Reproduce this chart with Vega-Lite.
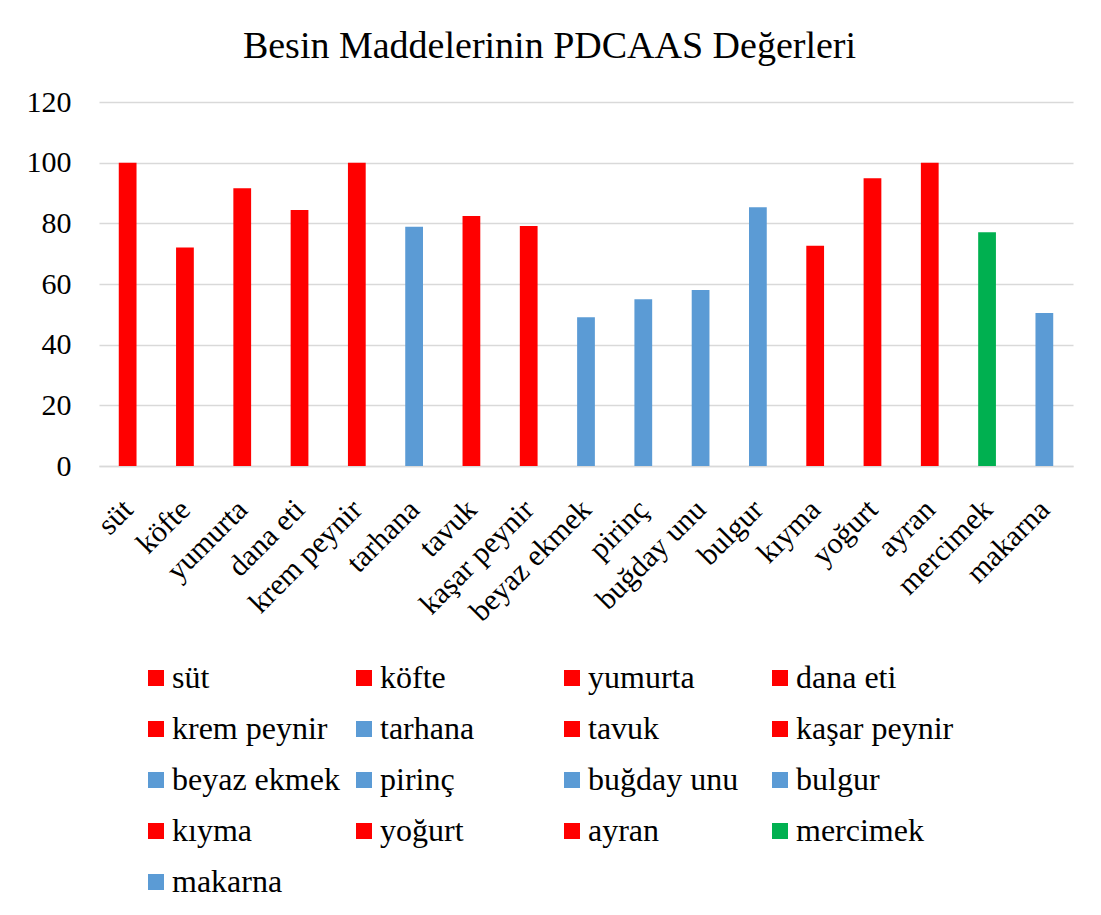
{
  "$schema": "https://vega.github.io/schema/vega-lite/v6.json",
  "width": 974,
  "height": 364,
  "padding": {"left": 26, "top": 28, "right": 20, "bottom": 10},
  "background": "white",
  "title": {
    "text": "Besin Maddelerinin PDCAAS Değerleri",
    "font": "Liberation Serif",
    "fontSize": 38,
    "fontWeight": "normal",
    "color": "#000000",
    "anchor": "middle",
    "frame": "bounds",
    "baseline": "alphabetic",
    "offset": -9
  },
  "data": {
    "values": [
      {"besin": "süt", "pdcaas": 100},
      {"besin": "köfte", "pdcaas": 72},
      {"besin": "yumurta", "pdcaas": 91.6},
      {"besin": "dana eti", "pdcaas": 84.4},
      {"besin": "krem peynir", "pdcaas": 100},
      {"besin": "tarhana", "pdcaas": 78.9},
      {"besin": "tavuk", "pdcaas": 82.4},
      {"besin": "kaşar peynir", "pdcaas": 79.1},
      {"besin": "beyaz ekmek", "pdcaas": 49},
      {"besin": "pirinç", "pdcaas": 55},
      {"besin": "buğday unu", "pdcaas": 58},
      {"besin": "bulgur", "pdcaas": 85.3},
      {"besin": "kıyma", "pdcaas": 72.6},
      {"besin": "yoğurt", "pdcaas": 94.9},
      {"besin": "ayran", "pdcaas": 100},
      {"besin": "mercimek", "pdcaas": 77.1},
      {"besin": "makarna", "pdcaas": 50.4}
    ]
  },
  "mark": {"type": "bar"},
  "encoding": {
    "x": {
      "field": "besin",
      "type": "nominal",
      "sort": null,
      "scale": {"paddingInner": 0.69, "paddingOuter": 0.345},
      "axis": {
        "title": null,
        "labelAngle": -45,
        "labelFont": "Liberation Serif",
        "labelFontSize": 30,
        "labelColor": "#000000",
        "labelPadding": 28,
        "labelOffset": -10,
        "ticks": false,
        "domainColor": "#d9d9d9",
        "domainWidth": 1.5,
        "grid": false
      }
    },
    "y": {
      "field": "pdcaas",
      "type": "quantitative",
      "scale": {"domain": [0, 120]},
      "axis": {
        "title": null,
        "values": [0, 20, 40, 60, 80, 100, 120],
        "labelFont": "Liberation Serif",
        "labelFontSize": 30,
        "labelColor": "#000000",
        "labelPadding": 28,
        "ticks": false,
        "domain": false,
        "gridColor": "#d9d9d9",
        "gridWidth": 1.5
      }
    },
    "color": {
      "field": "besin",
      "type": "nominal",
      "scale": {
        "domain": ["süt", "köfte", "yumurta", "dana eti", "krem peynir", "tarhana", "tavuk", "kaşar peynir", "beyaz ekmek", "pirinç", "buğday unu", "bulgur", "kıyma", "yoğurt", "ayran", "mercimek", "makarna"],
        "range": ["#FF0000", "#FF0000", "#FF0000", "#FF0000", "#FF0000", "#5B9BD5", "#FF0000", "#FF0000", "#5B9BD5", "#5B9BD5", "#5B9BD5", "#5B9BD5", "#FF0000", "#FF0000", "#FF0000", "#00B050", "#5B9BD5"]
      },
      "legend": {
        "title": null,
        "orient": "none",
        "legendX": 41,
        "legendY": 560,
        "direction": "horizontal",
        "columns": 4,
        "gridAlign": "all",
        "columnPadding": 8,
        "rowPadding": 19,
        "symbolType": "square",
        "symbolSize": 256,
        "symbolStrokeWidth": 0,
        "symbolOpacity": 1,
        "labelFont": "Liberation Serif",
        "labelFontSize": 32,
        "labelColor": "#000000",
        "labelOffset": 0,
        "labelLimit": 400
      }
    }
  },
  "config": {
    "font": "Liberation Serif",
    "style": {
      "guide-label": {"font": "Liberation Serif"},
      "guide-title": {"font": "Liberation Serif"}
    },
    "axis": {"labelFont": "Liberation Serif"},
    "legend": {"labelFont": "Liberation Serif"},
    "view": {"stroke": null}
  }
}
